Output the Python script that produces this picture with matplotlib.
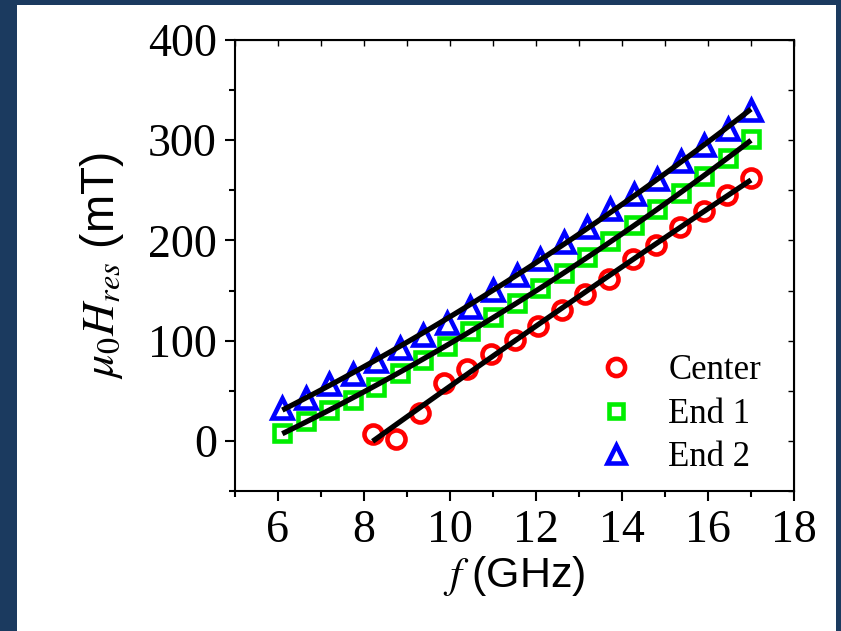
import numpy as np
import matplotlib.pyplot as plt
from matplotlib.patches import Rectangle
from matplotlib.ticker import MultipleLocator

plt.rcParams['font.family'] = ['Liberation Serif', 'DejaVu Serif']
plt.rcParams['mathtext.fontset'] = 'stix'

# frequency (GHz) and resonance field (mT)
f_center = [8.20, 8.75, 9.30, 9.85, 10.40, 10.95, 11.50, 12.05, 12.60,
            13.15, 13.70, 14.25, 14.80, 15.35, 15.90, 16.45, 17.00]
h_center = [7, 2, 28, 58, 72, 87, 101, 115, 131,
            147, 162, 181, 195, 213, 229, 245, 262]

f_end = [6.10, 6.65, 7.19, 7.74, 8.28, 8.83, 9.37, 9.92, 10.46, 11.01, 11.55,
         12.10, 12.64, 13.19, 13.73, 14.28, 14.82, 15.37, 15.91, 16.46, 17.00]
h_end1 = [8, 20, 31, 41, 54, 68, 81, 95, 110, 124, 138,
          153, 168, 183, 199, 215, 231, 247, 264, 282, 301]
h_end2 = [33, 43, 57, 67, 80, 93, 106, 118, 134, 151, 166,
          181, 198, 213, 231, 246, 261, 279, 295, 311, 330]

fig = plt.figure(figsize=(8.41, 6.31), dpi=100)
fig.patch.set_facecolor('#1b3a5f')
fig.add_artist(Rectangle((17 / 841, 0), (836 - 17) / 841, (631 - 5) / 631,
                         transform=fig.transFigure, facecolor='white',
                         edgecolor='none', zorder=0))

ax = fig.add_axes([235 / 841, 1 - 491 / 631, (794 - 235) / 841, (491 - 40) / 631])

series = [
    (f_center, h_center, 'o', '#ff0000', 13, 'Center'),
    (f_end, h_end1, 's', '#00ee00', 11, 'End 1'),
    (f_end, h_end2, '^', '#0000ff', 14, 'End 2'),
]
for x, y, m, c, ms, lab in series:
    ax.plot(x, y, linestyle='none', marker=m, markersize=ms, markeredgewidth=3.3,
            markerfacecolor='none', markeredgecolor=c, label=lab, zorder=3)

# quadratic fits
for x, y, m, c, ms, lab in series:
    p = np.polyfit(x, y, 2)
    xx = np.linspace(x[0], x[-1], 100)
    ax.plot(xx, np.polyval(p, xx), color='black', lw=3.8, zorder=4,
            solid_capstyle='butt')

ax.set_xlim(5, 18)
ax.set_ylim(-50, 400)
ax.xaxis.set_major_locator(MultipleLocator(2))
ax.xaxis.set_minor_locator(MultipleLocator(1))
ax.yaxis.set_major_locator(MultipleLocator(100))
ax.yaxis.set_minor_locator(MultipleLocator(50))
ax.tick_params(which='both', direction='out', width=1.5, labelsize=33, pad=6)
ax.tick_params(which='major', length=7)
ax.tick_params(which='minor', length=4)
for s in ax.spines.values():
    s.set_linewidth(1.5)

top = ax.secondary_xaxis('top')
top.xaxis.set_major_locator(MultipleLocator(1))
top.tick_params(direction='in', length=4, width=1, labeltop=False)
right = ax.secondary_yaxis('right')
right.yaxis.set_major_locator(MultipleLocator(50))
right.tick_params(direction='in', length=4, width=1, labelright=False)

ax.set_xlabel(r'$f\ $(GHz)', fontsize=31, family='Liberation Sans', labelpad=2)
ax.set_ylabel(r'$\mu_0H_{res}$ (mT)', fontsize=33, family='Liberation Sans', labelpad=16)

ax.legend(loc='lower right', bbox_to_anchor=(0.997, -0.032), frameon=False,
          fontsize=25, handlelength=1.0, handletextpad=1.0, labelspacing=0.3,
          markerscale=0.95)

fig.savefig('out.png', dpi=100, facecolor=fig.get_facecolor())
